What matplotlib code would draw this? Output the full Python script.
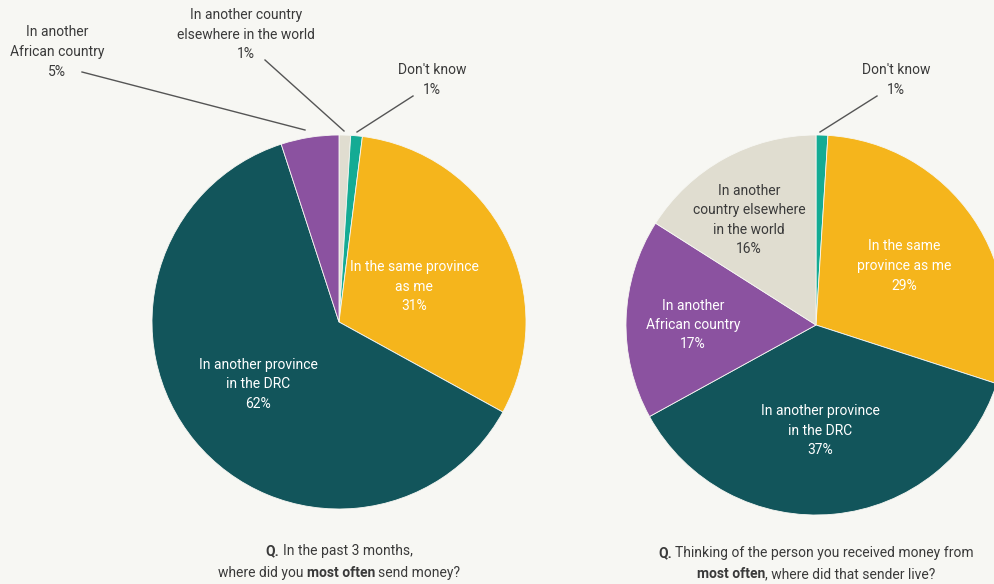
import matplotlib
matplotlib.use('Agg')
import matplotlib.pyplot as plt

plt.rcParams['font.family'] = ['Roboto', 'DejaVu Sans']

# data
left_labels = ["In another country\nelsewhere in the world", "Don't know",
               "In the same province\nas me", "In another province\nin the DRC",
               "In another\nAfrican country"]
left_values = [1, 1, 31, 62, 5]
left_colors = ['#e0ddd0', '#14ab94', '#f5b51c', '#12555b', '#8b52a0']

right_labels = ["Don't know", "In the same\nprovince as me",
                "In another province\nin the DRC", "In another\nAfrican country",
                "In another\ncountry elsewhere\nin the world"]
right_values = [1, 29, 37, 17, 16]
right_colors = ['#14ab94', '#f5b51c', '#12555b', '#8b52a0', '#e0ddd0']

left_question = [("Q.", 'bold'), ("In the past 3 months,", 'normal')], \
                [("where did you", 'normal'), ("most often", 'bold'), ("send money?", 'normal')]
right_question = [("Q.", 'bold'), ("Thinking of the person you received money from", 'normal')], \
                 [("most often", 'bold'), (", where did that sender live?", 'normal')]

W, H = 994, 584
BG = '#f7f7f3'
TXT = '#3a3a3a'
FS = 10

fig = plt.figure(figsize=(W / 100, H / 100), dpi=100, facecolor=BG)
ax = fig.add_axes([0, 0, 1, 1])
ax.set_facecolor(BG)

def Y(py):
    return H - py

wp = dict(edgecolor=BG, linewidth=0.6)
ax.pie(left_values, colors=left_colors, startangle=90, counterclock=False,
       center=(339, Y(322)), radius=187, wedgeprops=wp)
ax.pie(right_values, colors=right_colors, startangle=90, counterclock=False,
       center=(816, Y(325)), radius=190, wedgeprops=wp)

ax.set_xlim(0, W)
ax.set_ylim(0, H)
ax.set_aspect('equal')
ax.set_axis_off()

def lab(x, y, s, color='white'):
    ax.text(x, Y(y), s, ha='center', va='center', color=color, fontsize=FS,
            linespacing=1.5)

def pct(v):
    return '%d%%' % v

# left pie inner labels
lab(414, 287, left_labels[2] + '\n' + pct(left_values[2]))
lab(258, 384, left_labels[3] + '\n' + pct(left_values[3]))
# left pie outer labels
lab(57, 52, left_labels[4] + '\n' + pct(left_values[4]), TXT)
lab(246, 35, left_labels[0] + '\n' + pct(left_values[0]), TXT)
lab(432, 80, left_labels[1] + '\n' + pct(left_values[1]), TXT)
ax.plot([82, 305], [Y(72), Y(130)], color='#555555', lw=1)
ax.plot([265, 344], [Y(60), Y(131)], color='#555555', lw=1)
ax.plot([413, 357], [Y(96), Y(132)], color='#555555', lw=1)

# right pie labels
lab(904, 266, right_labels[1] + '\n' + pct(right_values[1]))
lab(820, 431, right_labels[2] + '\n' + pct(right_values[2]))
lab(693, 325, right_labels[3] + '\n' + pct(right_values[3]))
lab(749, 220, right_labels[4] + '\n' + pct(right_values[4]), TXT)
lab(896, 80, right_labels[0] + '\n' + pct(right_values[0]), TXT)
ax.plot([877, 820], [Y(96), Y(132)], color='#555555', lw=1)

# question lines with mixed weights
renderer = fig.canvas.get_renderer()

def width(s, weight):
    t = ax.text(0, 0, s, fontsize=FS, fontweight=weight)
    w = t.get_window_extent(renderer).width
    t.remove()
    return w

space_w = width("x x", 'normal') - width("xx", 'normal')

def rich_line(cx, py, parts):
    ws = [width(s, wt) for s, wt in parts]
    gaps = []
    for i in range(len(parts) - 1):
        gaps.append(0 if parts[i + 1][0].startswith(',') else space_w)
    total = sum(ws) + sum(gaps)
    x = cx - total / 2
    for i, (s, wt) in enumerate(parts):
        ax.text(x, Y(py), s, fontsize=FS, fontweight=wt, color=TXT,
                ha='left', va='center')
        x += ws[i] + (gaps[i] if i < len(gaps) else 0)

rich_line(339, 551, left_question[0])
rich_line(339, 573, left_question[1])
rich_line(816, 553, right_question[0])
rich_line(816, 574, right_question[1])

fig.savefig('out.png', dpi=100, facecolor=BG)
